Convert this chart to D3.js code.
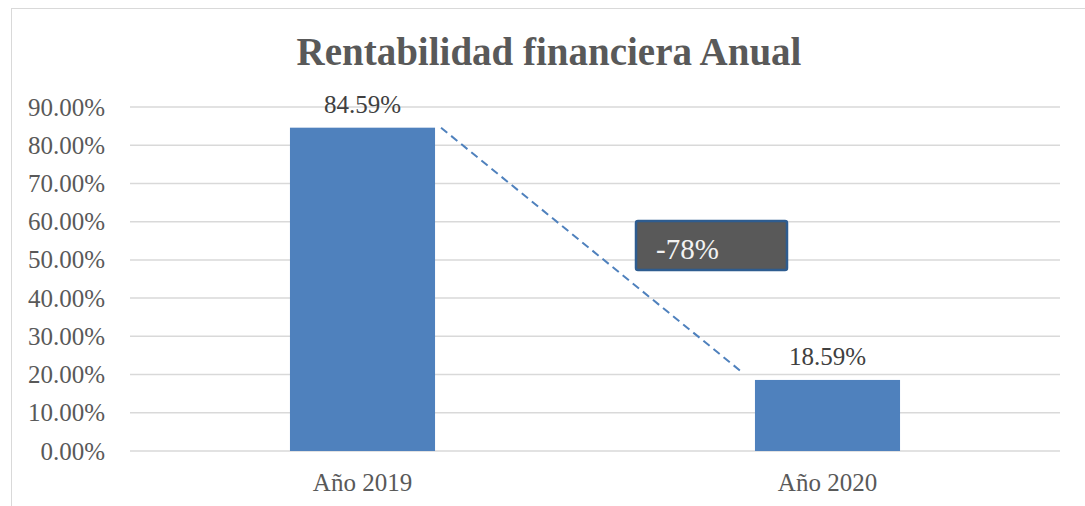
<!DOCTYPE html>
<html>
<head>
<meta charset="utf-8">
<script src="https://cdn.jsdelivr.net/npm/d3@7"></script>
<style>
  body { margin: 0; background: #fff; }
  text { font-family: "Liberation Serif", "DejaVu Serif", serif; }
</style>
</head>
<body>
<div id="vis1"></div>
<script>
// frame dimensions
const FRAME_WIDTH = 1085;
const FRAME_HEIGHT = 506;
const MARGINS = {left: 130, right: 25, top: 107, bottom: 55};

// data
const categories = ["Año 2019", "Año 2020"];
const values = [84.59, 18.59];
const yTicks = [0, 10, 20, 30, 40, 50, 60, 70, 80, 90];
const title = "Rentabilidad financiera Anual";

const FRAME1 = d3.select("#vis1")
  .append("svg")
    .attr("width", FRAME_WIDTH)
    .attr("height", FRAME_HEIGHT);

// outer chart border
FRAME1.append("rect")
  .attr("x", 11.5).attr("y", 8.5)
  .attr("width", 1100).attr("height", 520)
  .attr("fill", "none")
  .attr("stroke", "#d9d9d9");

const VIS_WIDTH = FRAME_WIDTH - MARGINS.left - MARGINS.right;

const X_SCALE = d3.scaleBand()
  .domain(categories)
  .range([MARGINS.left, MARGINS.left + VIS_WIDTH]);

const Y_SCALE = d3.scaleLinear()
  .domain([0, 90])
  .range([451, MARGINS.top]);

const BAR_W = X_SCALE.bandwidth() * 0.312;

// gridlines
FRAME1.append("g")
  .selectAll("line")
  .data(yTicks)
  .enter()
  .append("line")
    .attr("x1", MARGINS.left)
    .attr("x2", MARGINS.left + VIS_WIDTH)
    .attr("y1", d => Y_SCALE(d))
    .attr("y2", d => Y_SCALE(d))
    .attr("stroke", "#d9d9d9")
    .attr("stroke-width", 1.5);

// y axis labels
const yAxis = FRAME1.append("g")
  .attr("transform", "translate(" + (MARGINS.left - 22) + ",0)")
  .call(d3.axisLeft(Y_SCALE).tickValues(yTicks).tickSize(0)
        .tickFormat(d => d.toFixed(2) + "%"));
yAxis.select(".domain").remove();
yAxis.selectAll("text")
  .attr("font-family", "Liberation Serif")
  .attr("font-size", "25px")
  .attr("fill", "#595959");

// x axis labels
const xAxis = FRAME1.append("g")
  .attr("transform", "translate(0," + 470 + ")")
  .call(d3.axisBottom(X_SCALE).tickSize(0));
xAxis.select(".domain").remove();
xAxis.selectAll("text")
  .attr("font-family", "Liberation Serif")
  .attr("font-size", "25px")
  .attr("fill", "#595959");

// bars
FRAME1.selectAll(".bar")
  .data(values)
  .enter()
  .append("rect")
    .attr("class", "bar")
    .attr("x", (d, i) => X_SCALE(categories[i]) + X_SCALE.bandwidth() / 2 - BAR_W / 2)
    .attr("y", d => Y_SCALE(d))
    .attr("width", BAR_W)
    .attr("height", d => Y_SCALE(0) - Y_SCALE(d))
    .attr("fill", "#4f81bd");

// data labels
FRAME1.selectAll(".lbl")
  .data(values)
  .enter()
  .append("text")
    .attr("x", (d, i) => X_SCALE(categories[i]) + X_SCALE.bandwidth() / 2)
    .attr("y", d => Y_SCALE(d) - 15)
    .attr("text-anchor", "middle")
    .attr("font-size", "25px")
    .attr("fill", "#404040")
    .text(d => d.toFixed(2) + "%");

// dashed connector between bar tops
const xa = X_SCALE(categories[0]) + X_SCALE.bandwidth() / 2 + BAR_W / 2 + 6;
const xb = X_SCALE(categories[1]) + X_SCALE.bandwidth() / 2 - BAR_W / 2 - 12;
FRAME1.append("line")
  .attr("x1", xa).attr("y1", Y_SCALE(values[0]))
  .attr("x2", xb).attr("y2", Y_SCALE(values[1]) - 7)
  .attr("stroke", "#4f81bd")
  .attr("stroke-width", 2)
  .attr("stroke-dasharray", "8,5");

// change box
const change = Math.round((values[1] - values[0]) / values[0] * 100);
FRAME1.append("rect")
  .attr("x", 636).attr("y", 221)
  .attr("width", 151).attr("height", 49)
  .attr("rx", 2)
  .attr("fill", "#595959")
  .attr("stroke", "#2e5c8f")
  .attr("stroke-width", 2.5);
FRAME1.append("text")
  .attr("x", 656).attr("y", 259)
  .attr("font-size", "29px")
  .attr("fill", "#f2f2f2")
  .text(change + "%");

// title
FRAME1.append("text")
  .attr("x", 549).attr("y", 65)
  .attr("text-anchor", "middle")
  .attr("font-size", "39px")
  .attr("font-weight", "bold")
  .attr("fill", "#595959")
  .text(title);
</script>
</body>
</html>
